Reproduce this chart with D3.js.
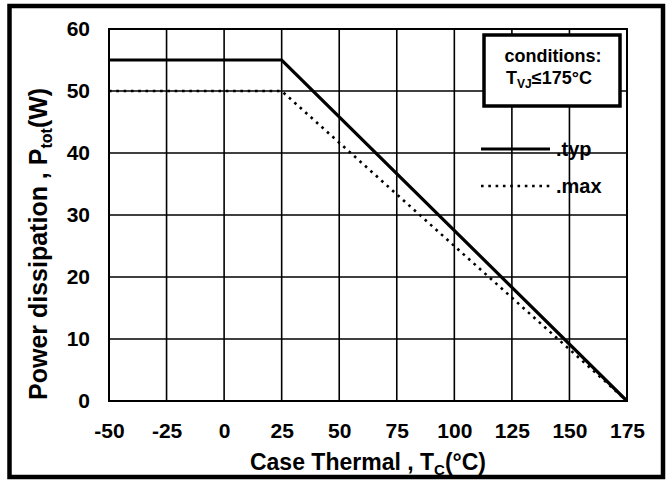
<!DOCTYPE html>
<html>
<head>
<meta charset="utf-8">
<script src="https://cdn.jsdelivr.net/npm/d3@7"></script>
<style>
  html, body { margin: 0; padding: 0; background: #fff; }
  svg { display: block; font-family: "Liberation Sans", Arial, sans-serif; }
  .tick text { font-size: 21px; font-weight: bold; fill: #000; }
</style>
</head>
<body>
<svg id="chart" width="671" height="480"></svg>
<script>
"use strict";

/* ── Data ─────────────────────────────────────────── */
const xTicks = [-50, -25, 0, 25, 50, 75, 100, 125, 150, 175];
const yTicks = [0, 10, 20, 30, 40, 50, 60];
const typTemp = [-50, 25, 175];
const typPower = [55, 55, 0];
const maxTemp = [-50, 25, 175];
const maxPower = [50, 50, 0];

/* ── Layout ───────────────────────────────────────── */
const X0 = 109, X1 = 627, Y0 = 401, Y1 = 29;
const svg = d3.select("#chart");

const x = d3.scaleLinear().domain([-50, 175]).range([X0, X1]);
const y = d3.scaleLinear().domain([0, 60]).range([Y0, Y1]);

/* outer frame */
svg.append("rect")
  .attr("x", 9.5).attr("y", 6).attr("width", 653.5).attr("height", 471)
  .attr("fill", "none").attr("stroke", "#000").attr("stroke-width", 4.5);

/* grid */
svg.append("g")
  .selectAll("line").data(xTicks).join("line")
  .attr("x1", d => x(d)).attr("x2", d => x(d))
  .attr("y1", Y1).attr("y2", Y0)
  .attr("stroke", "#000").attr("stroke-width", 1.6);
svg.append("g")
  .selectAll("line").data(yTicks).join("line")
  .attr("x1", X0).attr("x2", X1)
  .attr("y1", d => y(d)).attr("y2", d => y(d))
  .attr("stroke", "#000").attr("stroke-width", 1.6);

/* axes (labels only, plain hyphen minus) */
const xAxis = svg.append("g")
  .attr("transform", `translate(0,${Y0})`)
  .call(d3.axisBottom(x).tickValues(xTicks).tickFormat(d => String(d))
    .tickSize(0).tickPadding(37));
xAxis.select(".domain").remove();
xAxis.selectAll("text").attr("dy", 0);

const yAxis = svg.append("g")
  .attr("transform", `translate(${X0},0)`)
  .call(d3.axisLeft(y).tickValues(yTicks).tickFormat(d => String(d))
    .tickSize(0).tickPadding(19));
yAxis.select(".domain").remove();

/* plot border */
svg.append("rect")
  .attr("x", X0).attr("y", Y1).attr("width", X1 - X0).attr("height", Y0 - Y1)
  .attr("fill", "none").attr("stroke", "#000").attr("stroke-width", 2);

/* curves */
const line = d3.line().x(d => x(d[0])).y(d => y(d[1]));
svg.append("path")
  .attr("d", line(typTemp.map((t, i) => [t, typPower[i]])))
  .attr("fill", "none").attr("stroke", "#000").attr("stroke-width", 3.2);
svg.append("path")
  .attr("d", line(maxTemp.map((t, i) => [t, maxPower[i]])))
  .attr("fill", "none").attr("stroke", "#000").attr("stroke-width", 2.6)
  .attr("stroke-dasharray", "2.6,4.7");

/* conditions box */
svg.append("rect")
  .attr("x", 484).attr("y", 35).attr("width", 136).attr("height", 71)
  .attr("fill", "#fff").attr("stroke", "#000").attr("stroke-width", 3.5);
svg.append("text")
  .attr("x", 553).attr("y", 62).attr("text-anchor", "middle")
  .attr("font-size", 18).attr("font-weight", "bold")
  .text("conditions:");
const cond = svg.append("text")
  .attr("x", 549).attr("y", 84).attr("text-anchor", "middle")
  .attr("font-size", 18).attr("font-weight", "bold");
cond.append("tspan").text("T");
cond.append("tspan").attr("font-size", 12).attr("dy", 4).text("VJ");
cond.append("tspan").attr("dy", -4).text("≤175°C");

/* legend */
svg.append("line")
  .attr("x1", 481).attr("x2", 550).attr("y1", 149).attr("y2", 149)
  .attr("stroke", "#000").attr("stroke-width", 3.2);
svg.append("text")
  .attr("x", 556).attr("y", 156).attr("font-size", 20).attr("font-weight", "bold")
  .text(".typ");
svg.append("line")
  .attr("x1", 481).attr("x2", 550).attr("y1", 186).attr("y2", 186)
  .attr("stroke", "#000").attr("stroke-width", 2.6)
  .attr("stroke-dasharray", "2.6,4.7");
svg.append("text")
  .attr("x", 556).attr("y", 193).attr("font-size", 20).attr("font-weight", "bold")
  .text(".max");

/* axis titles */
const xt = svg.append("text")
  .attr("x", 368).attr("y", 470).attr("text-anchor", "middle")
  .attr("font-size", 23).attr("font-weight", "bold");
xt.append("tspan").text("Case Thermal , T");
xt.append("tspan").attr("font-size", 15).attr("dy", 5).text("C");
xt.append("tspan").attr("dy", -5).text("(°C)");

const yt = svg.append("text")
  .attr("transform", "translate(47,400) rotate(-90)")
  .attr("text-anchor", "start")
  .attr("font-size", 25).attr("font-weight", "bold");
yt.append("tspan").text("Power dissipation , P");
yt.append("tspan").attr("font-size", 16).attr("dy", 5).text("tot");
yt.append("tspan").attr("dy", -5).text("(W)");
</script>
</body>
</html>
